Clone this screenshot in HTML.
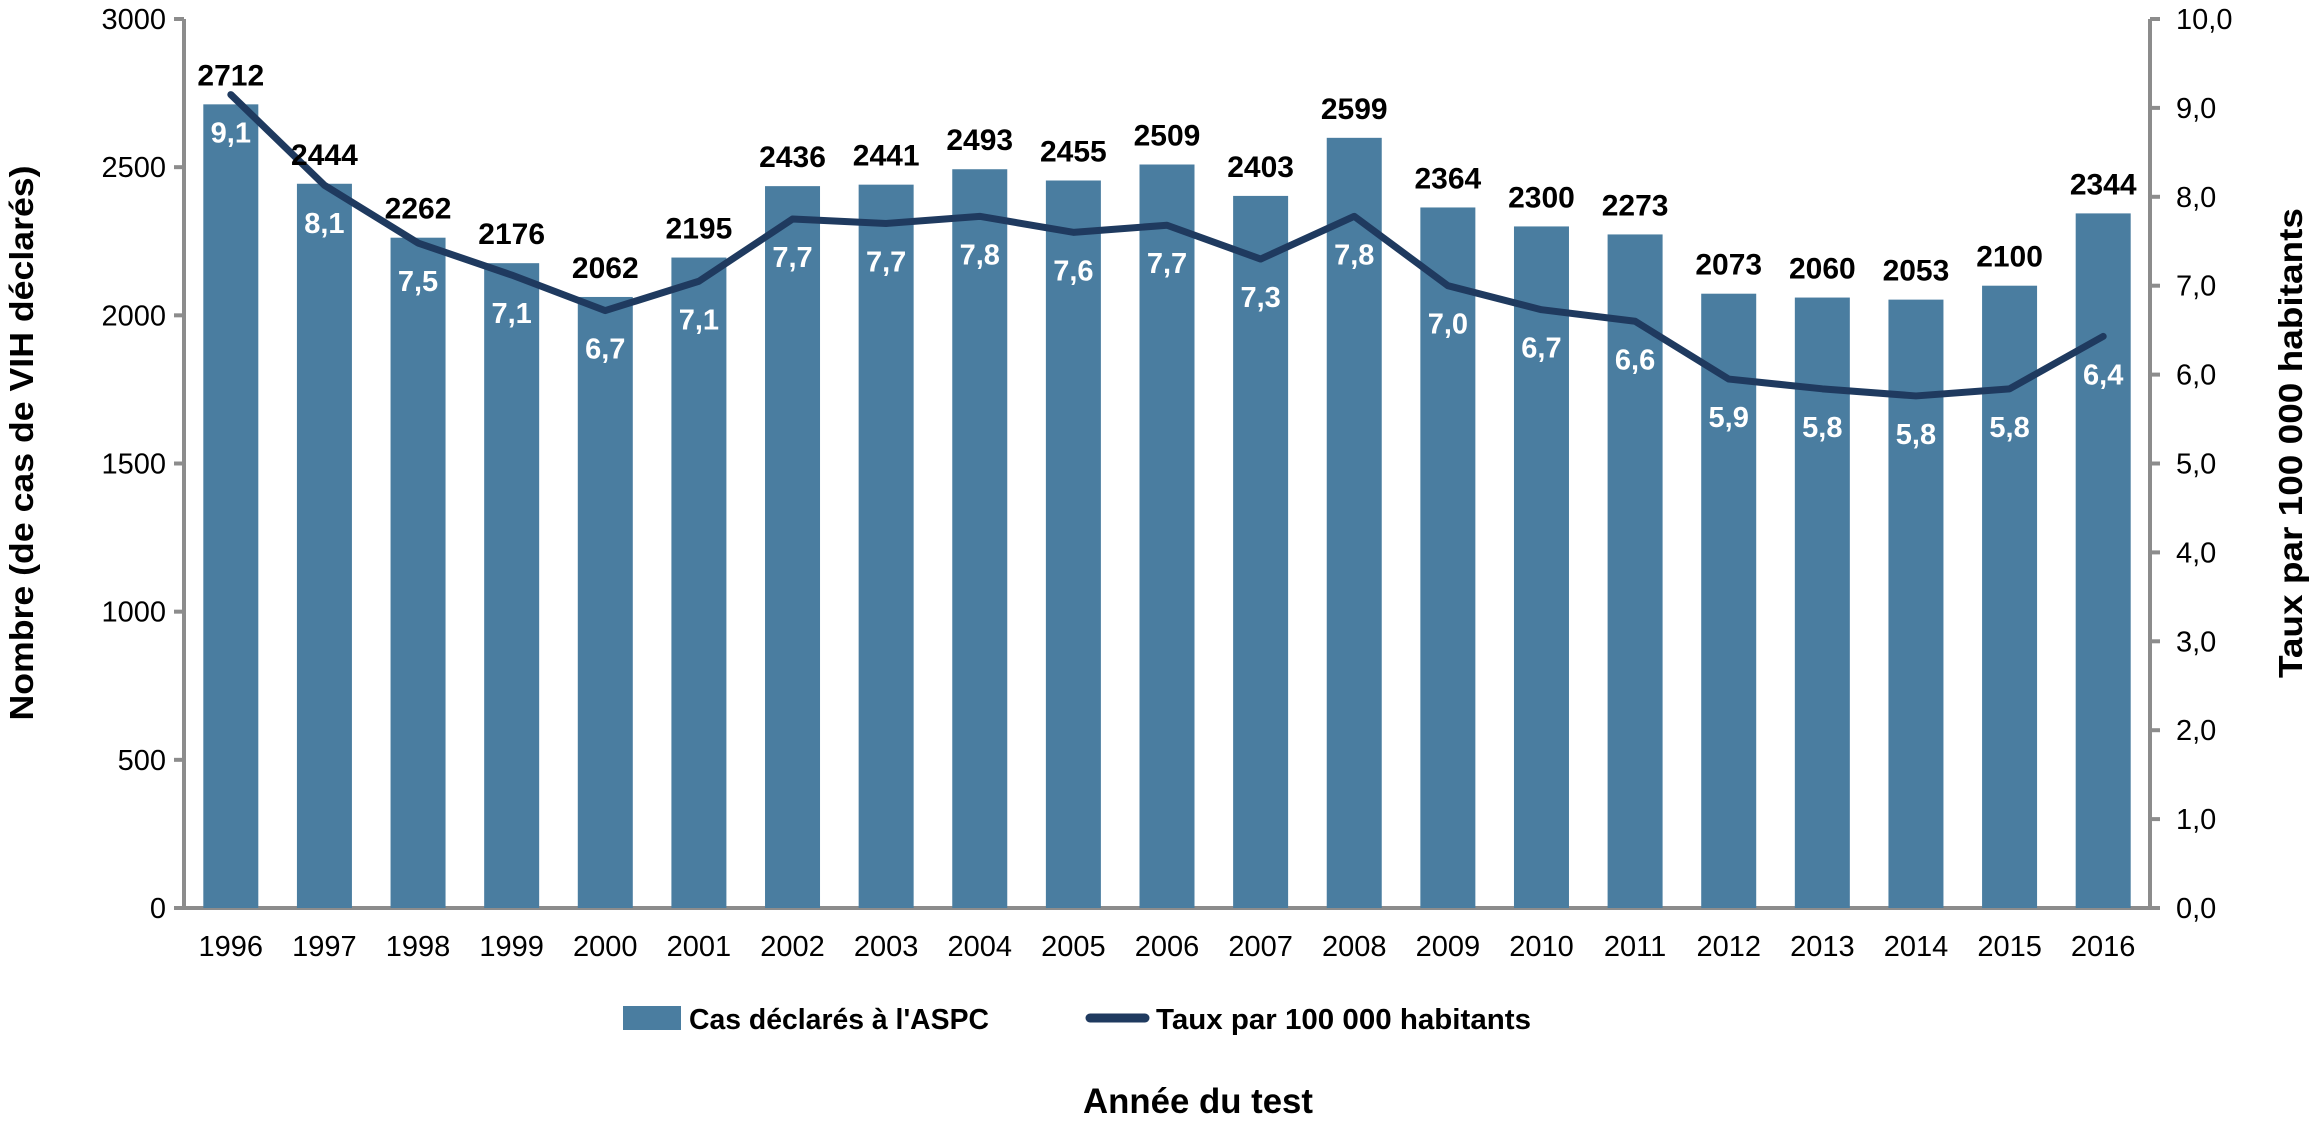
<!DOCTYPE html>
<html><head><meta charset="utf-8"><style>
body{margin:0;background:#fff;}
svg{display:block;font-family:"Liberation Sans",sans-serif;}
</style></head><body>
<svg id="chart" width="2314" height="1129" viewBox="0 0 2314 1129">
<g id="axes"></g><g id="bars"></g><g id="line"></g><g id="labels"></g>
<g>
<rect x="623" y="1006" width="58" height="24" fill="#4a7da0"/>
<text x="689" y="1029" font-size="29" font-weight="bold" textLength="300" lengthAdjust="spacingAndGlyphs">Cas déclarés à l'ASPC</text>
<line x1="1090" y1="1018" x2="1145" y2="1018" stroke="#1f3a5f" stroke-width="9" stroke-linecap="round"/>
<text x="1156" y="1029" font-size="29" font-weight="bold" textLength="375" lengthAdjust="spacingAndGlyphs">Taux par 100 000 habitants</text>
</g>
<text x="1198" y="1113" font-size="35" font-weight="bold" text-anchor="middle" textLength="230" lengthAdjust="spacingAndGlyphs">Année du test</text>
<text transform="translate(33,443) rotate(-90)" font-size="33" font-weight="bold" text-anchor="middle" textLength="555" lengthAdjust="spacingAndGlyphs">Nombre (de cas de VIH déclarés)</text>
<text transform="translate(2302,443) rotate(-90)" font-size="33" font-weight="bold" text-anchor="middle" textLength="470" lengthAdjust="spacingAndGlyphs">Taux par 100 000 habitants</text>
</svg>
<script>
const years=[1996,1997,1998,1999,2000,2001,2002,2003,2004,2005,2006,2007,2008,2009,2010,2011,2012,2013,2014,2015,2016];
const cases=[2712,2444,2262,2176,2062,2195,2436,2441,2493,2455,2509,2403,2599,2364,2300,2273,2073,2060,2053,2100,2344];
const rates=[9.1,8.1,7.5,7.1,6.7,7.1,7.7,7.7,7.8,7.6,7.7,7.3,7.8,7.0,6.7,6.6,5.9,5.8,5.8,5.8,6.4];
const rateLine=[9.15,8.13,7.48,7.12,6.72,7.05,7.75,7.70,7.78,7.60,7.68,7.30,7.78,7.00,6.73,6.60,5.95,5.84,5.76,5.84,6.43];
const leftTicks=[0,500,1000,1500,2000,2500,3000];
const rightTicks=[0,1,2,3,4,5,6,7,8,9,10];
const NS="http://www.w3.org/2000/svg";
const X0=184,X1=2150,Y0=908,Y1=19;
const step=(X1-X0)/years.length;
const xc=i=>X0+step*(i+0.5);
const yL=v=>Y0-(v/3000)*(Y0-Y1);
const yR=v=>Y0-(v/10)*(Y0-Y1);
function mk(tag,attrs,parent,txt){const e=document.createElementNS(NS,tag);for(const k in attrs)e.setAttribute(k,attrs[k]);if(txt!==undefined)e.textContent=txt;document.getElementById(parent).appendChild(e);return e;}
let e=mk('line',{x1:X0,y1:Y1,x2:X0,y2:Y0,stroke:'#8c8c8c','stroke-width':4},'axes');


e=mk('line',{x1:X1,y1:Y1,x2:X1,y2:Y0,stroke:'#8c8c8c','stroke-width':4},'axes');


e=mk('line',{x1:X0-10,y1:Y0,x2:X1,y2:Y0,stroke:'#8c8c8c','stroke-width':4},'axes');


leftTicks.forEach(t=>{
 mk('line',{x1:X0-10,y1:yL(t),x2:X0,y2:yL(t),stroke:'#8c8c8c','stroke-width':4},'axes');
 const tx=mk('text',{x:X0-18,y:yL(t)+10,'font-size':29,'text-anchor':'end',fill:'#000'},'axes',String(t));
 
 
});
rightTicks.forEach(t=>{
 mk('line',{x1:X1,y1:yR(t),x2:X1+10,y2:yR(t),stroke:'#8c8c8c','stroke-width':4},'axes');
 const tx=mk('text',{x:X1+26,y:yR(t)+10,'font-size':29,fill:'#000'},'axes',t.toFixed(1).replace('.',','));
 
 
});
years.forEach((y,i)=>{
 const tx=mk('text',{x:xc(i),y:Y0+48,'font-size':29,'text-anchor':'middle'},'axes',String(y));
 
 
});
const bw=55;
cases.forEach((v,i)=>{
 const r=mk('rect',{x:xc(i)-bw/2,y:yL(v),width:bw,height:Y0-yL(v),fill:'#4a7da0'},'bars');
 
 
 const t=mk('text',{x:xc(i),y:yL(v)-19,'font-size':30,'font-weight':'bold','text-anchor':'middle'},'labels',String(v));
 
 
});
const pts=rateLine.map((v,i)=>xc(i)+','+yR(v)).join(' ');
const pl=mk('polyline',{points:pts,fill:'none',stroke:'#1f3a5f','stroke-width':7,'stroke-linejoin':'round','stroke-linecap':'round'},'line');


rates.forEach((v,i)=>{
 const t=mk('text',{x:xc(i),y:yR(rateLine[i])+48,'font-size':29,'font-weight':'bold','text-anchor':'middle',fill:'#fff'},'labels',v.toFixed(1).replace('.',','));
 
 
});
</script>
</body></html>
